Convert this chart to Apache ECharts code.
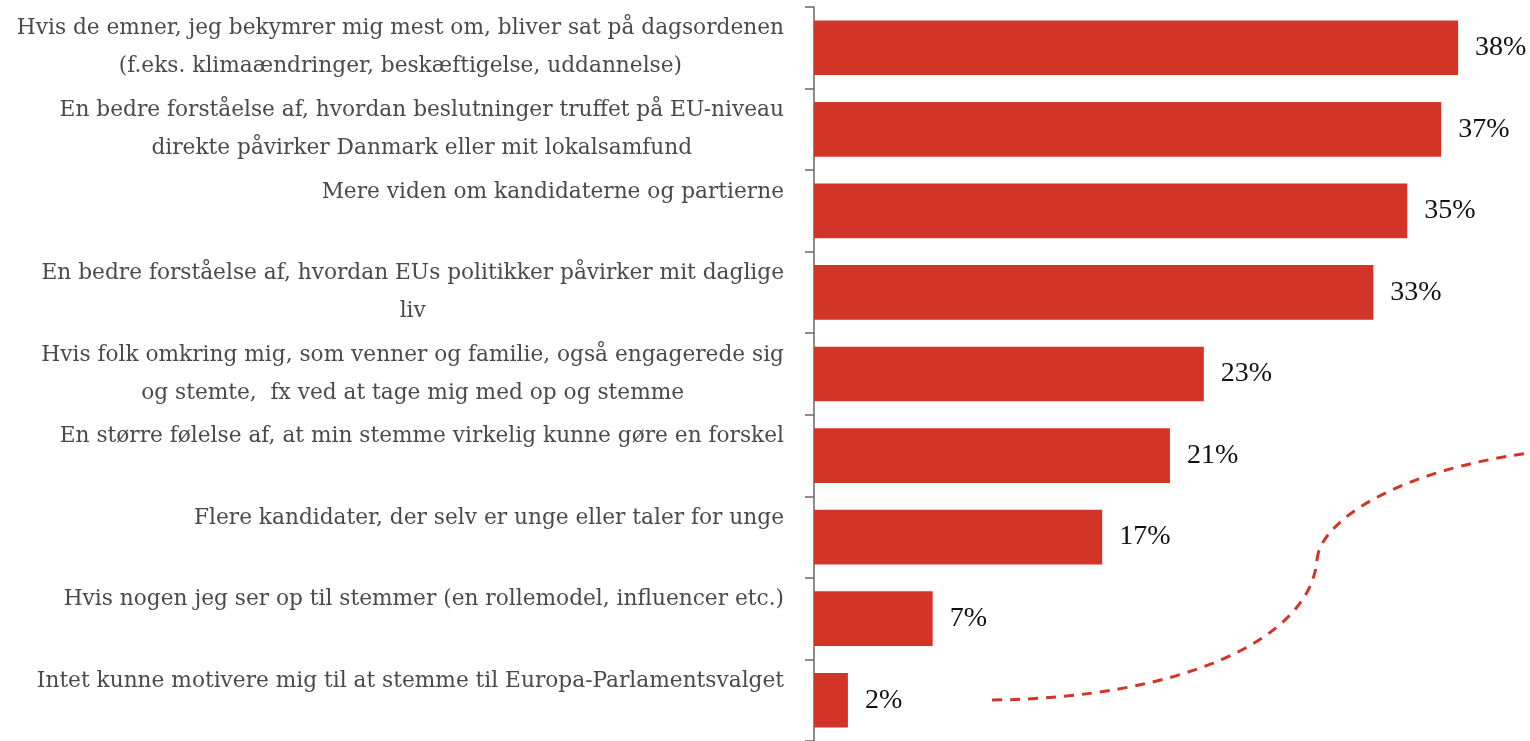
<!DOCTYPE html>
<html lang="da">

<head>
    <meta charset="UTF-8">
    <title>Motivation</title>
    <script src="https://cdn.jsdelivr.net/npm/echarts@6/dist/echarts.min.js"></script>
    <style>
        * {
            margin: 0;
            padding: 0;
        }

        #main {
            width: 1530px;
            height: 741px;
            background: #fff;
        }
    </style>
</head>

<body>
    <div id="main"></div>
    <script>
        // kategorier, øverst først
        let categories = [
            'Hvis de emner, jeg bekymrer mig mest om, bliver sat på dagsordenen\n(f.eks. klimaændringer, beskæftigelse, uddannelse)',
            'En bedre forståelse af, hvordan beslutninger truffet på EU-niveau\ndirekte påvirker Danmark eller mit lokalsamfund',
            'Mere viden om kandidaterne og partierne',
            'En bedre forståelse af, hvordan EUs politikker påvirker mit daglige\nliv',
            'Hvis folk omkring mig, som venner og familie, også engagerede sig\nog stemte,  fx ved at tage mig med op og stemme',
            'En større følelse af, at min stemme virkelig kunne gøre en forskel',
            'Flere kandidater, der selv er unge eller taler for unge',
            'Hvis nogen jeg ser op til stemmer (en rollemodel, influencer etc.)',
            'Intet kunne motivere mig til at stemme til Europa-Parlamentsvalget'
        ];
        let values = [38, 37, 35, 33, 23, 21, 17, 7, 2];

        let red = '#d33428';
        let myChart = echarts.init(document.getElementById('main'));

        let option = {
            animation: false,
            grid: {
                left: 814,
                right: 38,
                top: 7,
                bottom: -4
            },
            xAxis: {
                type: 'value',
                min: 0,
                max: 40,
                show: false
            },
            yAxis: {
                type: 'category',
                inverse: true,
                data: categories,
                axisLine: { show: true, lineStyle: { color: '#666', width: 1.5 } },
                axisTick: { show: true, length: 9, lineStyle: { color: '#666', width: 1.5 } },
                axisLabel: {
                    margin: 30,
                    formatter: function (v) {
                        let lines = v.split('\n');
                        if (lines.length < 2) lines.push(' '); // enkeltlinjer står øverst
                        return lines.map(l => '{c|' + l + '}').join('\n');
                    },
                    rich: {
                        c: {
                            align: 'center',
                            fontFamily: 'DejaVu Serif',
                            fontSize: 21.7,
                            lineHeight: 38,
                            color: '#4a4a4a'
                        }
                    }
                }
            },
            series: [{
                type: 'bar',
                data: values,
                barCategoryGap: '33%',
                itemStyle: { color: red },
                label: {
                    show: true,
                    position: 'right',
                    distance: 17,
                    formatter: '{c}%',
                    fontFamily: 'Liberation Serif',
                    fontSize: 28,
                    color: '#111'
                }
            }],
            // pynt: stiplet kurve nederst til højre
            graphic: [{
                type: 'bezierCurve',
                shape: { x1: 992, y1: 700, cpx1: 1180, cpy1: 698, cpx2: 1310, cpy2: 640, x2: 1317, y2: 560 },
                style: { stroke: red, lineWidth: 3, lineDash: [10, 8], fill: null }
            }, {
                type: 'bezierCurve',
                shape: { x1: 1317, y1: 560, cpx1: 1320, cpy1: 520, cpx2: 1400, cpy2: 470, x2: 1530, y2: 453 },
                style: { stroke: red, lineWidth: 3, lineDash: [10, 8], fill: null }
            }]
        };

        myChart.setOption(option);
    </script>
</body>

</html>
